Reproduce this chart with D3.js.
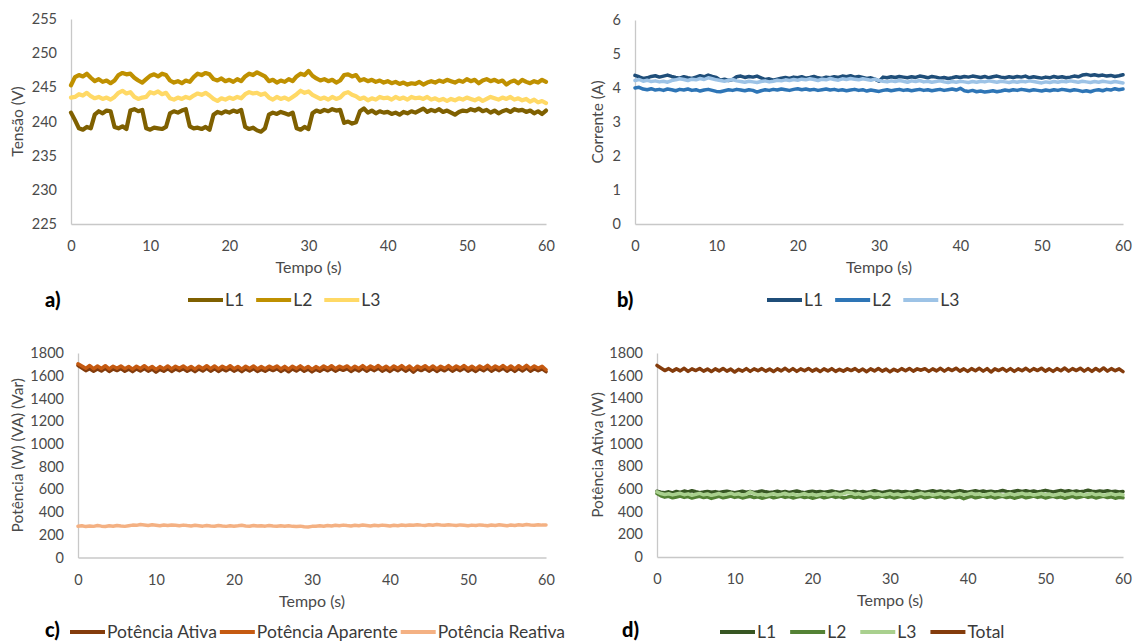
<!DOCTYPE html>
<html><head><meta charset="utf-8">
<script src="https://cdn.jsdelivr.net/npm/d3@7"></script>
<style>
html,body{margin:0;padding:0;background:#fff;}
svg{display:block;font-family:Lato, "Open Sans", sans-serif;}
</style></head>
<body><svg id="chart" width="1135" height="643"></svg>
<script>
// ---------------- DATA ----------------
const xTicks = [0,10,20,30,40,50,60];
const tensaoTicks = [225,230,235,240,245,250,255];
const correnteTicks = [0,1,2,3,4,5,6];
const potenciaTicks = [0,200,400,600,800,1000,1200,1400,1600,1800];

// Panel a) Tensão (V), sampled every 0.5 s from 0 to 60 s
const tensaoL1 = [241.3,240.2,239.0,238.8,239.2,239.0,241.0,241.5,241.2,241.6,241.5,239.2,239.0,239.3,238.9,241.6,241.8,241.5,241.7,239.0,238.8,239.1,239.0,238.9,239.2,241.2,241.5,241.3,241.6,241.8,239.3,239.0,239.1,238.9,239.2,238.8,241.0,241.4,241.2,241.5,241.3,241.6,241.4,241.7,239.2,238.9,239.1,238.7,238.5,239.0,241.0,241.3,241.1,241.4,241.2,241.0,241.3,239.0,238.8,239.2,238.9,241.2,241.6,241.4,241.7,241.5,241.8,241.6,241.7,239.8,240.0,239.7,239.9,241.5,241.9,241.3,241.6,241.2,241.5,241.3,241.4,241.1,241.3,241.0,241.4,241.2,241.5,241.3,241.6,241.9,241.4,241.7,241.5,241.8,241.4,241.6,241.3,241.0,241.4,241.6,241.5,241.8,241.6,241.9,241.5,241.7,241.3,241.6,241.2,241.5,241.7,241.4,241.8,241.6,241.7,241.4,241.6,241.2,241.5,241.1,241.6];
const tensaoL2 = [245.3,246.5,246.8,246.6,247.0,246.4,245.9,246.2,245.8,246.0,245.6,246.0,246.8,247.1,246.9,247.0,246.4,246.0,245.7,246.2,246.7,246.9,246.6,247.0,246.8,246.0,245.7,245.9,245.6,246.0,245.8,246.5,247.0,246.8,247.1,246.9,246.2,246.0,246.3,245.9,246.1,245.8,246.2,245.9,246.6,247.0,246.8,247.2,246.9,246.6,245.9,246.1,245.7,246.0,245.8,246.2,245.9,246.6,247.0,246.8,247.4,246.7,246.3,246.0,246.2,245.9,246.1,245.7,246.0,246.8,246.9,246.6,246.8,246.0,246.2,245.9,246.1,245.8,246.0,245.7,245.9,245.6,245.8,245.5,245.7,245.4,245.6,245.5,245.8,245.4,245.7,245.9,245.7,246.0,245.8,246.1,245.9,245.7,246.0,245.8,246.2,245.9,246.1,245.6,246.0,246.2,245.9,246.1,245.8,246.0,245.4,245.8,246.0,245.6,246.1,245.8,245.6,245.9,245.7,246.1,245.8];
const tensaoL3 = [243.5,243.6,244.0,243.8,244.2,243.7,243.4,243.6,243.3,243.5,243.2,243.6,244.2,244.5,244.1,244.3,243.6,243.3,243.5,243.6,244.3,244.1,244.4,244.0,244.2,243.4,243.2,243.5,243.3,243.6,243.4,243.8,244.1,243.9,244.2,243.8,243.3,243.0,243.4,243.2,243.5,243.3,243.6,243.4,244.0,244.3,244.1,244.2,243.9,244.1,243.5,243.2,243.6,243.3,243.5,243.2,243.6,244.0,244.5,244.2,244.4,243.9,243.6,243.3,243.5,243.2,243.6,243.3,243.5,244.1,244.3,243.9,243.7,243.3,243.5,243.1,243.4,243.2,243.6,243.4,243.5,243.2,243.6,243.3,243.5,243.2,243.6,243.4,243.5,243.3,243.6,243.2,243.4,243.1,243.3,243.0,243.3,243.1,243.4,243.2,243.5,243.3,243.1,243.4,243.0,243.3,243.6,243.4,243.2,243.5,243.3,243.6,243.2,243.4,243.1,243.3,242.9,243.2,242.8,243.0,242.7];

// Panel b) Corrente (A)
const correnteL1 = [4.37,4.33,4.28,4.30,4.34,4.36,4.32,4.35,4.38,4.34,4.31,4.29,4.33,4.30,4.28,4.32,4.36,4.33,4.38,4.34,4.31,4.23,4.26,4.22,4.25,4.33,4.35,4.31,4.34,4.32,4.35,4.30,4.25,4.27,4.23,4.26,4.29,4.31,4.28,4.32,4.30,4.33,4.29,4.31,4.34,4.30,4.28,4.32,4.30,4.33,4.31,4.35,4.33,4.36,4.32,4.34,4.31,4.28,4.30,4.26,4.20,4.32,4.30,4.33,4.31,4.34,4.32,4.30,4.33,4.31,4.35,4.33,4.30,4.34,4.32,4.29,4.31,4.28,4.30,4.33,4.31,4.34,4.32,4.35,4.33,4.31,4.34,4.30,4.33,4.35,4.32,4.30,4.33,4.31,4.34,4.32,4.35,4.30,4.33,4.31,4.29,4.32,4.30,4.34,4.31,4.33,4.30,4.32,4.35,4.33,4.38,4.40,4.37,4.39,4.36,4.38,4.35,4.37,4.34,4.36,4.39];
const correnteL2 = [4.00,4.02,3.97,3.95,3.98,3.94,3.96,3.93,3.97,3.95,3.92,3.96,3.94,3.97,3.93,3.95,3.91,3.94,3.96,3.93,3.90,3.89,3.92,3.95,3.93,3.96,3.94,3.92,3.95,3.93,3.88,3.92,3.95,3.93,3.96,3.94,3.97,3.95,3.93,3.96,3.98,3.95,3.97,3.94,3.96,3.93,3.95,3.97,3.94,3.96,3.93,3.95,3.92,3.94,3.96,3.93,3.95,3.91,3.94,3.92,3.90,3.93,3.95,3.92,3.94,3.96,3.93,3.95,3.92,3.94,3.96,3.93,3.95,3.92,3.94,3.96,3.93,3.95,3.97,3.94,3.99,3.92,3.90,3.93,3.89,3.91,3.88,3.90,3.92,3.89,3.91,3.94,3.92,3.95,3.93,3.96,3.94,3.92,3.95,3.93,3.91,3.94,3.92,3.95,3.93,3.96,3.94,3.92,3.95,3.93,3.90,3.92,3.89,3.93,3.95,3.92,3.96,3.94,3.98,3.95,3.97];
const correnteL3 = [4.22,4.25,4.20,4.23,4.19,4.21,4.18,4.20,4.17,4.22,4.24,4.27,4.25,4.22,4.26,4.24,4.28,4.25,4.30,4.27,4.24,4.22,4.20,4.23,4.25,4.21,4.19,4.17,4.20,4.18,4.16,4.19,4.21,4.18,4.20,4.23,4.21,4.24,4.22,4.25,4.23,4.26,4.24,4.27,4.25,4.22,4.26,4.24,4.28,4.25,4.23,4.27,4.25,4.28,4.26,4.24,4.27,4.25,4.23,4.26,4.22,4.20,4.18,4.21,4.19,4.22,4.20,4.17,4.21,4.19,4.22,4.18,4.20,4.17,4.19,4.21,4.18,4.16,4.19,4.17,4.20,4.18,4.16,4.19,4.17,4.20,4.18,4.21,4.19,4.17,4.20,4.18,4.16,4.19,4.17,4.20,4.18,4.21,4.19,4.17,4.15,4.18,4.16,4.19,4.17,4.20,4.18,4.21,4.19,4.17,4.20,4.18,4.16,4.19,4.17,4.20,4.18,4.16,4.19,4.17,4.15];

// Panel c) Potência (W) (VA) (Var)
const potAtiva = [1690,1668,1645,1662,1640,1660,1642,1665,1638,1660,1645,1663,1640,1658,1636,1660,1642,1664,1640,1658,1632,1656,1640,1662,1638,1660,1644,1662,1640,1658,1636,1660,1642,1665,1640,1662,1638,1660,1643,1664,1640,1658,1636,1660,1642,1662,1638,1656,1640,1660,1645,1662,1638,1658,1635,1660,1642,1663,1640,1658,1634,1656,1640,1662,1643,1664,1640,1660,1648,1662,1638,1660,1642,1665,1640,1662,1645,1666,1640,1660,1638,1662,1644,1665,1640,1662,1632,1660,1645,1664,1640,1662,1638,1660,1643,1665,1640,1662,1645,1666,1640,1660,1638,1662,1644,1667,1640,1662,1645,1666,1640,1662,1638,1664,1642,1668,1640,1662,1644,1660,1636];
const potAparente = [1705,1685,1665,1690,1662,1685,1664,1688,1660,1684,1666,1686,1662,1682,1658,1684,1664,1688,1662,1682,1656,1680,1662,1686,1660,1684,1666,1686,1662,1682,1658,1684,1664,1688,1662,1686,1660,1684,1665,1688,1662,1682,1658,1684,1664,1686,1660,1680,1662,1684,1667,1686,1660,1682,1657,1684,1664,1687,1662,1682,1656,1680,1662,1686,1665,1688,1662,1684,1670,1686,1660,1684,1664,1689,1662,1686,1667,1690,1662,1684,1660,1686,1666,1689,1662,1686,1654,1684,1667,1688,1662,1686,1660,1684,1665,1689,1662,1686,1667,1690,1662,1684,1660,1686,1666,1691,1662,1686,1667,1690,1662,1686,1660,1688,1664,1692,1662,1686,1666,1684,1652];
const potReativa = [275,280,272,278,274,281,276,273,279,275,282,277,274,280,285,283,290,286,282,288,284,280,286,282,287,283,279,285,281,278,284,280,276,282,278,275,281,277,274,280,276,279,283,278,275,281,277,280,276,282,278,275,280,276,279,274,272,276,270,268,274,276,279,275,281,277,283,279,285,281,278,284,280,286,282,278,283,279,285,281,277,283,280,286,282,287,284,289,285,282,288,284,290,286,283,289,285,281,287,283,279,285,281,287,283,280,286,282,288,284,280,286,282,288,284,290,286,283,289,285,287];

// Panel d) Potência Ativa (W)
const ativaL1 = [580,572,568,575,565,578,570,582,574,585,576,568,573,579,571,577,569,575,581,573,567,574,580,572,578,570,576,583,575,569,574,580,572,578,570,576,582,574,568,575,581,573,579,571,577,583,575,569,576,582,574,580,572,578,570,576,584,576,570,577,583,575,581,573,579,571,577,585,577,571,578,584,576,582,574,580,572,578,586,578,572,579,585,577,583,575,581,573,579,587,579,573,580,586,578,584,576,582,574,580,588,580,574,581,587,579,585,577,583,575,581,589,581,575,582,578,584,576,580,574,578];
const ativaL2 = [560,540,528,535,522,530,538,526,533,520,528,536,524,531,517,527,535,523,530,538,526,533,521,528,536,524,531,519,527,535,523,530,538,526,533,521,528,536,524,531,519,527,535,523,530,538,526,533,521,528,536,524,531,519,527,535,523,530,538,526,533,521,528,536,524,531,519,527,535,523,530,538,526,533,521,528,536,524,531,515,527,535,523,530,538,526,533,521,528,536,524,531,519,527,535,523,530,538,526,533,521,528,536,524,531,519,527,535,523,530,538,526,533,521,528,536,524,531,519,527,523];
const ativaL3 = [575,560,552,558,548,556,562,550,557,545,553,561,549,556,544,552,560,548,555,563,551,558,546,553,575,560,548,555,543,551,559,547,554,562,550,557,545,552,560,548,555,543,551,559,547,554,562,550,557,570,565,552,560,548,555,563,551,558,546,553,561,549,556,544,552,560,548,555,563,551,558,546,553,561,549,556,544,552,560,548,555,563,551,558,546,553,561,549,556,544,552,560,548,555,563,551,558,546,553,561,549,556,544,552,560,548,555,563,551,558,546,553,561,549,556,544,552,560,548,555,550];
const ativaTotal = potAtiva;

// ---------------- DRAWING ----------------
const svg = d3.select("#chart");
const TICK_COLOR = "#4a4a4a", TITLE_COLOR = "#4a4a4a", LEG_COLOR = "#3a3a3a", AXIS_COLOR = "#C8C8C8";

function panel(cfg){
  const g = svg.append("g");
  const x = d3.scaleLinear().domain([0,60]).range([cfg.left, cfg.right]);
  const y = d3.scaleLinear().domain(cfg.domain).range([cfg.bottom, cfg.top]);

  // axes
  const xa = g.append("g").attr("transform", `translate(0,${cfg.bottom})`)
    .call(d3.axisBottom(x).tickValues(xTicks).tickFormat(d => String(d)).tickSize(0).tickPadding(17));
  const ya = g.append("g").attr("transform", `translate(${cfg.left},0)`)
    .call(d3.axisLeft(y).tickValues(cfg.ticks).tickFormat(d => String(d)).tickSize(0).tickPadding(14));
  [xa, ya].forEach(a => {
    a.select(".domain").attr("stroke", AXIS_COLOR).attr("stroke-width", 1.3);
    a.selectAll("text").attr("fill", TICK_COLOR).style("font-family", "Lato").style("font-size", "14.5px");
  });

  // lines
  cfg.series.forEach(s => {
    const n = s.values.length;
    const line = d3.line().x((d,i) => x(i * 60 / (n - 1))).y(d => y(d));
    g.append("path").datum(s.values).attr("d", line)
      .attr("fill", "none").attr("stroke", s.color).attr("stroke-width", cfg.lw)
      .attr("stroke-linejoin", "round").attr("stroke-linecap", "round");
  });

  // axis titles
  g.append("text").attr("x", (cfg.left + cfg.right) / 2).attr("y", cfg.bottom + 49)
    .attr("text-anchor", "middle").attr("fill", TITLE_COLOR).style("font-size", "16px").text("Tempo (s)");
  g.append("text").attr("transform", `translate(${cfg.ytx},${(cfg.top + cfg.bottom) / 2}) rotate(-90)`)
    .attr("text-anchor", "middle").attr("dy", "0.35em").attr("fill", TITLE_COLOR).style("font-size", "15.5px").text(cfg.ytitle);

  // panel letter
  g.append("text").attr("x", cfg.letterX).attr("y", cfg.letterY)
    .attr("fill", "#000").style("font-size", "20px").style("font-weight", "900").text(cfg.letter);

  // legend
  let lx = cfg.legX;
  cfg.series.forEach(s => {
    g.append("line").attr("x1", lx).attr("x2", lx + 35).attr("y1", cfg.legY).attr("y2", cfg.legY)
      .attr("stroke", s.color).attr("stroke-width", 4);
    const t = g.append("text").attr("x", lx + 37).attr("y", cfg.legY).attr("dy", "0.36em")
      .attr("fill", LEG_COLOR).style("font-size", "17.5px").text(s.name);
    lx += 37 + t.node().getComputedTextLength() + cfg.legGap;
  });
}

panel({left:71, right:546, top:19, bottom:224, domain:[225,255], ticks:tensaoTicks, lw:4.2,
  ytitle:"Tensão (V)", ytx:18, letter:"a)", letterX:45, letterY:307, legX:188, legY:300, legGap:12,
  series:[{name:"L1", color:"#7F6000", values:tensaoL1},
          {name:"L2", color:"#BF9000", values:tensaoL2},
          {name:"L3", color:"#FFD966", values:tensaoL3}]});

panel({left:635, right:1123, top:20, bottom:224, domain:[0,6], ticks:correnteTicks, lw:3.5,
  ytitle:"Corrente (A)", ytx:598, letter:"b)", letterX:617, letterY:307, legX:767, legY:300, legGap:12,
  series:[{name:"L1", color:"#1F4E79", values:correnteL1},
          {name:"L2", color:"#2E75B6", values:correnteL2},
          {name:"L3", color:"#9DC3E6", values:correnteL3}]});

panel({left:78, right:546, top:353, bottom:557.5, domain:[0,1800], ticks:potenciaTicks, lw:3.5,
  ytitle:"Potência (W) (VA) (Var)", ytx:18, letter:"c)", letterX:45, letterY:637, legX:70, legY:632, legGap:3,
  series:[{name:"Potência Ativa", color:"#843C0C", values:potAtiva},
          {name:"Potência Aparente", color:"#C55A11", values:potAparente},
          {name:"Potência Reativa", color:"#F4B183", values:potReativa}]});

panel({left:657, right:1123, top:353, bottom:557, domain:[0,1800], ticks:potenciaTicks, lw:3.5,
  ytitle:"Potência Ativa (W)", ytx:598, letter:"d)", letterX:622, letterY:637, legX:720, legY:632, legGap:14,
  series:[{name:"L1", color:"#375623", values:ativaL1},
          {name:"L2", color:"#548235", values:ativaL2},
          {name:"L3", color:"#A9D08E", values:ativaL3},
          {name:"Total", color:"#843C0C", values:ativaTotal}]});
</script>
</body></html>
